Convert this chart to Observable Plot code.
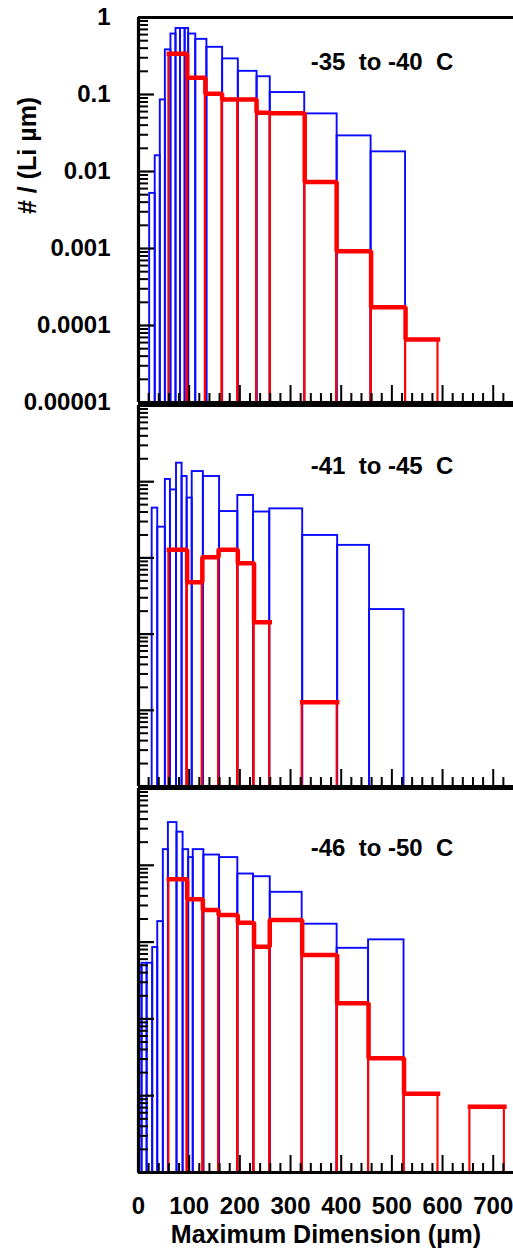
<!DOCTYPE html>
<html><head><meta charset="utf-8">
<script src="https://cdn.jsdelivr.net/npm/d3@7"></script>
<script src="https://cdn.jsdelivr.net/npm/@observablehq/plot@0.6"></script>
<style>
html,body{margin:0;padding:0;background:#fff;}
#chart{position:relative;width:513px;height:1254px;overflow:hidden;}
#chart svg{position:absolute;left:0;}
</style></head><body><div id="chart"></div>
<script>
// ---- data ----
const panelTitles = ["-35  to -40  C", "-41  to -45  C", "-46  to -50  C"];

const p1BlueEdges  = [22, 33, 43, 53, 64, 74, 83, 92, 99, 113, 135, 166, 197, 234, 260, 328, 392, 459, 527];
const p1BlueValues = [0.0052, 0.016, 0.085, 0.38, 0.61, 0.72, 0.72, 0.72, 0.61, 0.52, 0.41, 0.29, 0.20, 0.17, 0.106, 0.056, 0.029, 0.018];
const p1RedEdges   = [60, 96, 132, 165, 196, 233, 260, 328, 391, 459, 527, 591];
const p1RedValues  = [0.338, 0.165, 0.102, 0.086, 0.086, 0.058, 0.057, 0.0073, 0.00092, 0.000173, 0.0000658];

const p2BlueEdges  = [27, 38, 53, 63, 75, 86, 96, 106, 128, 160, 196, 227, 259, 324, 393, 456, 524];
const p2BlueValues = [0.045, 0.0253, 0.107, 0.078, 0.175, 0.117, 0.061, 0.136, 0.117, 0.0406, 0.066, 0.040, 0.044, 0.0197, 0.0146, 0.0021];
const p2RedEdges   = [60, 96, 126, 158, 196, 228, 259, 323, 392];
const p2RedValues  = [0.0128, 0.0048, 0.0102, 0.0128, 0.0085, 0.00143, null, 0.000128];

const p3BlueEdges  = [0, 7, 17, 28, 38, 49, 59, 76, 88, 99, 108, 129, 160, 196, 227, 260, 323, 392, 454, 524];
const p3BlueValues = [0.0046, 0.0053, 0.0053, 0.0085, 0.0185, 0.16, 0.36, 0.27, 0.16, 0.126, 0.16, 0.136, 0.126, 0.077, 0.071, 0.0445, 0.0171, 0.0083, 0.0107];
const p3RedEdges   = [60, 96, 127, 158, 196, 228, 259, 323, 392, 454, 524, 591, 654, 722];
const p3RedValues  = [0.0657, 0.0361, 0.0262, 0.0225, 0.0179, 0.0087, 0.0194, 0.0068, 0.0016, 0.000307, 0.000106, null, 0.0000719];

const xTickValues = [0, 100, 200, 300, 400, 500, 600, 700];
const xTickLabels = ["0", "100", "200", "300", "400", "500", "600", "700"];
const yTickValues = [1e-5, 1e-4, 1e-3, 1e-2, 1e-1, 1];
const yTickLabels = ["0.00001", "0.0001", "0.001", "0.01", "0.1", "1"];
const xTitle = "Maximum Dimension (µm)";
const yTitle = "# / (Li µm)";

// ---- layout ----
const W = 513, ML = 138, XMAX = 740;
const FONT = "'Liberation Sans', Arial, Helvetica, sans-serif";
const BLUE = "#0a0aff", RED = "#ff0000";

const panels = [
  {title: panelTitles[0], be: p1BlueEdges, bv: p1BlueValues, re: p1RedEdges, rv: p1RedValues, top: 0,   mt: 17, ph: 385, mb: 14, titleDy: 45, yLabels: true},
  {title: panelTitles[1], be: p2BlueEdges, bv: p2BlueValues, re: p2RedEdges, rv: p2RedValues, top: 393, mt: 12, ph: 381, mb: 12, titleDy: 61},
  {title: panelTitles[2], be: p3BlueEdges, bv: p3BlueValues, re: p3RedEdges, rv: p3RedValues, top: 776, mt: 12, ph: 384, mb: 82, titleDy: 60, xLabels: true}
];

function bins(edges, values) {
  const out = [];
  values.forEach((v, i) => { if (v != null) out.push({x1: edges[i], x2: edges[i + 1], v}); });
  return out;
}
function steps(edges, values) {
  const pts = []; let run = 0;
  values.forEach((v, i) => {
    if (v == null) { run++; return; }
    pts.push({x: edges[i], y: v, run}, {x: edges[i + 1], y: v, run});
  });
  return pts;
}

const xMinor = d3.range(20, XMAX, 20).filter(d => d % 100 !== 0);
const yMinor = [];
for (let e = -5; e < 0; e++) for (let k = 2; k <= 9; k++) yMinor.push(k * Math.pow(10, e));

const chart = document.getElementById("chart");

panels.forEach(p => {
  const height = p.mt + p.ph + p.mb;
  const umPerPx = XMAX / (W - ML);
  const pxPerDecade = p.ph / 5;
  const yUp = px => 1e-5 * Math.pow(10, px / pxPerDecade);

  const marks = [
    Plot.rect(bins(p.be, p.bv), {x1: "x1", x2: "x2", y1: 1e-5, y2: "v", fill: "none", stroke: BLUE, strokeWidth: 1.9}),
    Plot.rect(bins(p.re, p.rv), {x1: "x1", x2: "x2", y1: 1e-5, y2: "v", fill: "none", stroke: RED, strokeWidth: 2.1}),
    Plot.line(steps(p.re, p.rv), {x: "x", y: "y", z: "run", stroke: RED, strokeWidth: 4.5, strokeLinejoin: "miter", strokeLinecap: "square", curve: "linear"}),
    // y ticks (inside)
    Plot.ruleY(yTickValues, {y: d => d, x1: 0, x2: 16 * umPerPx, stroke: "black", strokeWidth: 2.2}),
    Plot.ruleY(yMinor, {y: d => d, x1: 0, x2: 10 * umPerPx, stroke: "black", strokeWidth: 2}),
    // x ticks (inside)
    Plot.ruleX(xTickValues, {x: d => d, y1: 1e-5, y2: yUp(17), stroke: "black", strokeWidth: 2}),
    Plot.ruleX(xMinor, {x: d => d, y1: 1e-5, y2: yUp(9), stroke: "black", strokeWidth: 2}),
    // frame (left, top, bottom)
    Plot.ruleX([0], {stroke: "black", strokeWidth: 3.2}),
    Plot.ruleY([1e-5, 1], {stroke: "black", strokeWidth: 3.2}),
    Plot.text([p.title], {frameAnchor: "top", dx: 56, dy: p.titleDy, lineAnchor: "middle", text: d => d,
      fontSize: 24, fontWeight: "bold", fill: "black", letterSpacing: 1})
  ];
  if (p.yLabels) {
    marks.push(Plot.text(yTickValues, {y: d => d, text: (d, i) => yTickLabels[i], frameAnchor: "left", dx: -28,
      textAnchor: "end", lineAnchor: "middle", fontSize: 24, fontWeight: "bold", fill: "black"}));
    marks.push(Plot.text([yTitle], {text: d => d, frameAnchor: "left", dx: -111, dy: 4, rotate: -90,
      lineAnchor: "middle", fontSize: 25, fontWeight: "bold", fill: "black"}));
  }
  if (p.xLabels) {
    marks.push(Plot.text(xTickValues, {x: d => d, text: (d, i) => xTickLabels[i], frameAnchor: "bottom", dy: 34,
      lineAnchor: "middle", fontSize: 24, fontWeight: "bold", fill: "black"}));
    marks.push(Plot.text([xTitle], {text: d => d, frameAnchor: "bottom", dy: 62,
      lineAnchor: "middle", fontSize: 25, fontWeight: "bold", fill: "black"}));
  }

  const svg = Plot.plot({
    width: W, height,
    marginLeft: ML, marginRight: 0, marginTop: p.mt, marginBottom: p.mb,
    x: {domain: [0, XMAX], axis: null},
    y: {type: "log", domain: [1e-5, 1], axis: null},
    style: {background: "transparent", fontFamily: FONT, overflow: "visible", whiteSpace: "pre"},
    marks
  });
  svg.style.top = p.top + "px";
  chart.appendChild(svg);
});
</script></body></html>
